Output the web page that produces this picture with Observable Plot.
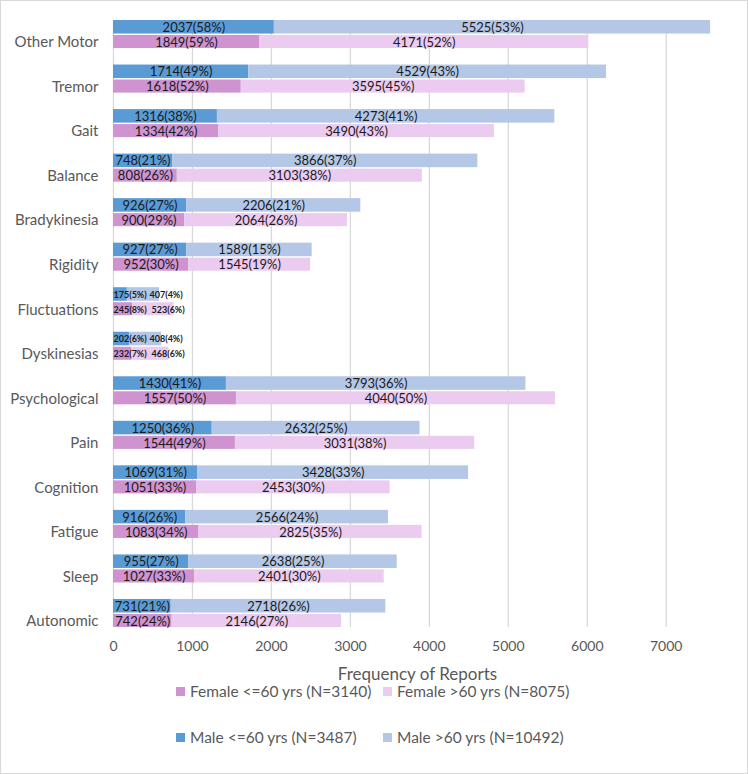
<!DOCTYPE html>
<html>
<head>
<meta charset="utf-8">
<script src="https://cdn.jsdelivr.net/npm/d3@7"></script>
<script src="https://cdn.jsdelivr.net/npm/@observablehq/plot@0.6"></script>
<style>
  html, body { margin: 0; padding: 0; background: #fff; }
  #wrap { position: relative; width: 748px; height: 774px; overflow: hidden; font-family: Lato, "Noto Sans", sans-serif; }
  #border { position: absolute; left: 0; top: 0; width: 748px; height: 774px; box-sizing: border-box; border: 1px solid #d9d9d9; pointer-events: none; }
  #chart { position: absolute; left: 0; top: 0; }
  .legend { position: absolute; left: 0; top: 0; font-size: 15.5px; color: #595959; white-space: nowrap; }
  .item { position: absolute; display: flex; align-items: center; height: 20px; }
  .sw { width: 9px; height: 9px; margin-right: 5px; }
</style>
</head>
<body>
<div id="wrap">
  <div id="chart"></div>
  <div class="legend" id="legend"></div>
  <div id="border"></div>
</div>
<script>
const categories = ["Other Motor","Tremor","Gait","Balance","Bradykinesia","Rigidity","Fluctuations","Dyskinesias","Psychological","Pain","Cognition","Fatigue","Sleep","Autonomic"];
const maleLe60     = [2037,1714,1316,748,926,927,175,202,1430,1250,1069,916,955,731];
const maleLe60Pct  = [58,49,38,21,27,27,5,6,41,36,31,26,27,21];
const maleGt60     = [5525,4529,4273,3866,2206,1589,407,408,3793,2632,3428,2566,2638,2718];
const maleGt60Pct  = [53,43,41,37,21,15,4,4,36,25,33,24,25,26];
const femaleLe60   = [1849,1618,1334,808,900,952,245,232,1557,1544,1051,1083,1027,742];
const femaleLe60Pct= [59,52,42,26,29,30,8,7,50,49,33,34,33,24];
const femaleGt60   = [4171,3595,3490,3103,2064,1545,523,468,4040,3031,2453,2825,2401,2146];
const femaleGt60Pct= [52,45,43,38,26,19,6,6,50,38,30,35,30,27];
const smallCats = ["Fluctuations","Dyskinesias"];
const xTicks = [0,1000,2000,3000,4000,5000,6000,7000];

const groups = ["Female <=60 yrs (N=3140)","Female >60 yrs (N=8075)","Male <=60 yrs (N=3487)","Male >60 yrs (N=10492)"];
const colors = ["#cf93cf","#ebcbf0","#5b9bd5","#b4c7e7"];

const rows = [];
categories.forEach((cat, i) => {
  [["Male", maleLe60[i], maleLe60Pct[i], maleGt60[i], maleGt60Pct[i], groups[2], groups[3]],
   ["Female", femaleLe60[i], femaleLe60Pct[i], femaleGt60[i], femaleGt60Pct[i], groups[0], groups[1]]]
  .forEach(([sex, a, ap, b, bp, g1, g2]) => {
    const small = smallCats.includes(cat);
    rows.push({cat, sex, group: g1, x1: 0, x2: a, mid: a / 2, label: `${a}(${ap}%)`, small, seg: 1});
    rows.push({cat, sex, group: g2, x1: a, x2: a + b, mid: a + b / 2, label: `${b}(${bp}%)`, small, seg: 2});
  });
});
const male = rows.filter(d => d.sex === "Male");
const female = rows.filter(d => d.sex === "Female");

const lab = {fontSize: 13, fill: "#1a1a1a"};
const smallLab = {textAnchor: "start", fontSize: 9, fontWeight: "bold", fill: "#1a1a1a"};

const chart = Plot.plot({
  width: 748,
  height: 774,
  marginLeft: 113,
  marginRight: 27,
  marginTop: 20,
  marginBottom: 147,
  style: {fontFamily: "Lato, 'Noto Sans', sans-serif", color: "#595959", background: "transparent"},
  x: {domain: [0, 7700]},
  y: {domain: categories, paddingInner: 0.37, paddingOuter: 0, round: false},
  color: {domain: groups, range: colors},
  marks: [
    Plot.gridX(xTicks, {stroke: "#d9d9d9", strokeOpacity: 1, strokeWidth: 1.3}),
    Plot.barX(male, {x1: "x1", x2: "x2", y: "cat", fill: "group", insetBottom: 14.5}),
    Plot.barX(female, {x1: "x1", x2: "x2", y: "cat", fill: "group", insetTop: 15}),
    Plot.text(male.filter(d => !d.small), {x: "mid", y: "cat", text: "label", dy: -7, ...lab}),
    Plot.text(female.filter(d => !d.small), {x: "mid", y: "cat", text: "label", dy: 8, ...lab}),
    Plot.text(male.filter(d => d.small && d.seg === 1), {x: 0, y: "cat", text: "label", dy: -7, dx: 0, ...smallLab}),
    Plot.text(male.filter(d => d.small && d.seg === 2), {x: 0, y: "cat", text: "label", dy: -7, dx: 36, ...smallLab}),
    Plot.text(female.filter(d => d.small && d.seg === 1), {x: 0, y: "cat", text: "label", dy: 8, dx: 0, ...smallLab}),
    Plot.text(female.filter(d => d.small && d.seg === 2), {x: 0, y: "cat", text: "label", dy: 8, dx: 38, ...smallLab}),
    Plot.axisY({tickSize: 0, tickPadding: 15, fontSize: 15, dy: 8, label: null}),
    Plot.axisX({ticks: xTicks, tickFormat: "d", tickSize: 0, tickPadding: 14, fontSize: 14, label: null}),
    Plot.text(["Frequency of Reports"], {frameAnchor: "bottom", dy: 52, fontSize: 17, fill: "#595959"})
  ]
});
document.getElementById("chart").appendChild(chart);

// legend
const legend = document.getElementById("legend");
const pos = [
  [groups[0], colors[0], 176, 681],
  [groups[1], colors[1], 383, 681],
  [groups[2], colors[2], 176, 727],
  [groups[3], colors[3], 383, 727]
];
pos.forEach(([name, col, left, top]) => {
  const it = document.createElement("div");
  it.className = "item";
  it.style.left = left + "px";
  it.style.top = top + "px";
  const sw = document.createElement("div");
  sw.className = "sw";
  sw.style.background = col;
  const tx = document.createElement("span");
  tx.textContent = name;
  it.appendChild(sw);
  it.appendChild(tx);
  legend.appendChild(it);
});
</script>
</body>
</html>
